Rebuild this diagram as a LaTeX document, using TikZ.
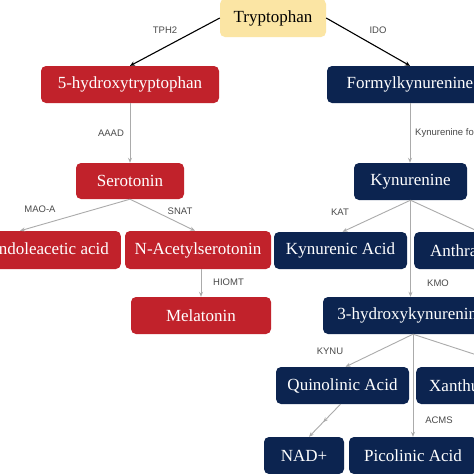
\documentclass[tikz,border=0pt]{standalone}
\usepackage{fontspec}
\setmainfont{Liberation Serif}
\newfontfamily\lblfont{Liberation Sans}
\usetikzlibrary{arrows.meta,calc,decorations.markings}
\definecolor{pwred}{HTML}{C1222B}
\definecolor{pwnavy}{HTML}{0C2450}
\definecolor{pwyellow}{HTML}{FBE5A4}
\definecolor{pwgray}{HTML}{ABABAB}
\definecolor{pwtext}{HTML}{4A4A4A}
\tikzset{
  pbox/.style={rounded corners=5pt, inner sep=0pt, minimum height=37pt, font=\fontsize{17}{19}\selectfont, text=white},
  redbox/.style={pbox, fill=pwred},
  navybox/.style={pbox, fill=pwnavy},
  yelbox/.style={pbox, fill=pwyellow, text=black},
  lbl/.style={font=\lblfont\fontsize{9.5}{10.5}\selectfont, text=pwtext, inner sep=0pt},
  blackarr/.style={-{Stealth[length=5pt,width=4.5pt]}, line width=1.1pt, black},
  grayarr/.style={-{Stealth[length=5pt,width=4pt]}, line width=0.9pt, pwgray},
  midarr/.style={postaction={decorate}, decoration={markings, mark=at position 0.55 with {\arrow{Stealth[length=5pt,width=4pt]}}}}
}
\begin{document}
\begin{tikzpicture}[x=1pt,y=-1pt]
\useasboundingbox (0,0) rectangle (474,474);
\fill[white] (0,0) rectangle (474,474);
\clip (0,0) rectangle (474,474);

% boxes
\node[yelbox, minimum width=106pt, minimum height=38pt] (trp) at (273,18) {Tryptophan};
\node[redbox, minimum width=178pt] (htp) at (130,84.5) {5-hydroxytryptophan};
\node[navybox, minimum width=166pt] (fk) at (410,84.5) {Formylkynurenine};
\node[redbox, minimum width=108pt, minimum height=36pt] (ser) at (130,181) {Serotonin};
\node[navybox, minimum width=113pt] (kyn) at (410.5,181.5) {Kynurenine};
\node[redbox, anchor=east, inner xsep=12pt, minimum height=38pt] (ind) at (121,250) {5-hydroxyindoleacetic acid};
\node[redbox, minimum width=146pt, minimum height=38pt] (nac) at (198,250) {N-Acetylserotonin};
\node[redbox, minimum width=140pt] (mel) at (201,315.5) {Melatonin};
\node[navybox, minimum width=133pt] (kya) at (340.5,250.5) {Kynurenic Acid};
\node[navybox, anchor=west, inner xsep=16pt] (ant) at (414,250.5) {Anthranilic Acid};
\node[navybox, minimum width=176pt] (hk) at (411,315.5) {3-hydroxykynurenine};
\node[navybox, minimum width=133pt] (qa) at (342.5,385.5) {Quinolinic Acid};
\node[navybox, anchor=west, inner xsep=13pt] (xa) at (416,385.5) {Xanthurenic Acid};
\node[navybox, minimum width=80pt] (nad) at (304,455.5) {NAD+};
\node[navybox, minimum width=128pt] (pa) at (413,455.5) {Picolinic Acid};

% connectors
\draw[blackarr] (trp.west) -- (htp.north);
\draw[blackarr] (trp.east) -- (fk.north);
\draw[grayarr] (htp.south) -- (ser.north);
\draw[grayarr] (fk.south) -- (fk.south |- kyn.north);
\draw[grayarr] (ser.south) -- ($(ind.north east)+(-101,0)$);
\draw[grayarr] (ser.south) -- ($(nac.north)+(-3,0)$);
\draw[grayarr] (mel.north |- nac.south) -- (mel.north);
\draw[grayarr] (kyn.south) -- ($(kya.north)+(2,0)$);
\draw[grayarr] (kyn.south) -- ($(ant.north west)+(65,0)$);
\draw[grayarr] (kyn.south) -- (kyn.south |- hk.north);
\draw[grayarr] ($(hk.south)+(2,0)$) -- ($(qa.north)+(3,0)$);
\draw[grayarr] ($(hk.south)+(2,0)$) -- ($(xa.north west)+(97,0)$);
\draw[grayarr] ($(hk.south)+(2,0)$) -- ($(hk.south |- pa.north)+(2,0)$);
\draw[grayarr, midarr] ($(qa.south)+(-2,0)$) -- ($(nad.north)+(5,0)$);

% labels
\node[lbl] (l1) at (165,30) {TPH2};
\node[lbl] (l2) at (378,30) {IDO};
\node[lbl] (l3) at (111,133) {AAAD};
\node[lbl, anchor=west] (l4) at (415,133) {Kynurenine formamidase};
\node[lbl] (l5) at (40,209) {MAO-A};
\node[lbl] (l6) at (180,211) {SNAT};
\node[lbl, anchor=west] (l7) at (213,282) {HIOMT};
\node[lbl] (l8) at (340,212) {KAT};
\node[lbl] (l9) at (438,283) {KMO};
\node[lbl] (l10) at (330,351) {KYNU};
\node[lbl] (l11) at (439,420) {ACMS};
\end{tikzpicture}
\end{document}
